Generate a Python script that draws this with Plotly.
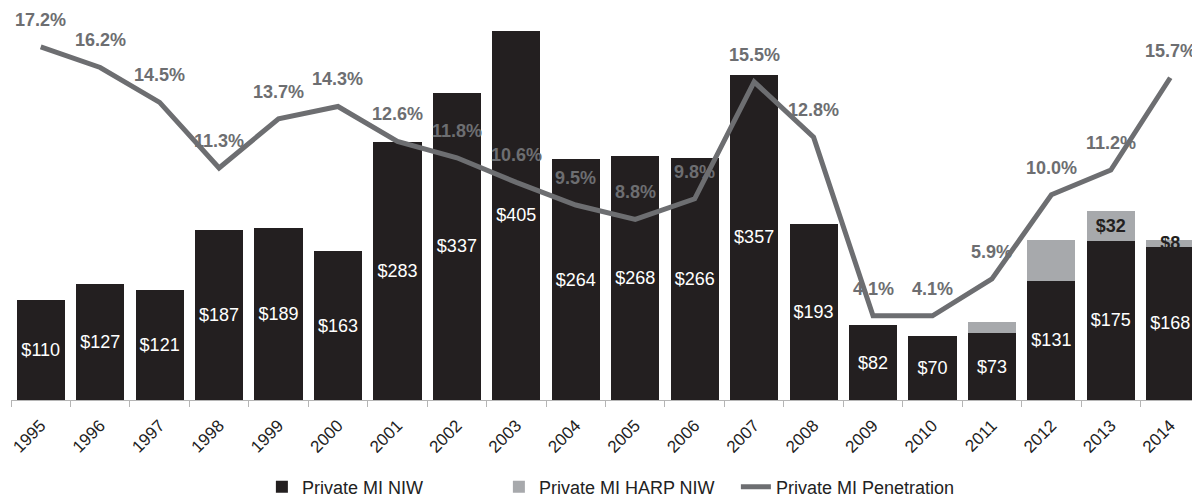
import plotly.graph_objects as go

# Données
years = [str(y) for y in range(1995, 2015)]
mi_niw = [110, 127, 121, 187, 189, 163, 283, 337, 405, 264, 268, 266, 357, 193, 82, 70, 73, 131, 175, 168]
harp_niw = [0, 0, 0, 0, 0, 0, 0, 0, 0, 0, 0, 0, 0, 0, 0, 0, 13, 45, 32, 8]
harp_labels = ["", "", "", "", "", "", "", "", "", "", "", "", "", "", "", "", "", "", "$32", "$8"]
penetration = [17.2, 16.2, 14.5, 11.3, 13.7, 14.3, 12.6, 11.8, 10.6, 9.5, 8.8, 9.8, 15.5, 12.8, 4.1, 4.1, 5.9, 10.0, 11.2, 15.7]

BLACK = "#231f20"
LIGHT = "#a7a9ac"
LINE = "#6d6e71"
FONT = "Liberation Sans, Arial, sans-serif"

fig = go.Figure()

fig.add_trace(go.Bar(
    x=years, y=mi_niw, name="Private MI NIW",
    marker_color=BLACK, marker_line_width=0,
    text=[f"${v}" for v in mi_niw], textposition="inside", textangle=0,
    insidetextanchor="middle", constraintext="none",
    textfont=dict(color="white", size=18, family=FONT),
))

fig.add_trace(go.Bar(
    x=years, y=harp_niw, name="Private MI HARP NIW",
    marker_color=LIGHT, marker_line_width=0,
    text=harp_labels, textposition="inside", textangle=0,
    insidetextanchor="middle", constraintext="none",
    textfont=dict(color=BLACK, size=18, family=FONT, weight="bold"),
))

fig.add_trace(go.Scatter(
    x=years, y=penetration, name="Private MI Penetration", yaxis="y2",
    mode="lines", line=dict(color=LINE, width=5),
))

# Étiquettes de pourcentage au-dessus de la courbe (x = index de catégorie)
for i, p in enumerate(penetration):
    fig.add_annotation(
        x=i, y=p, yref="y2", text=f"{p:.1f}%", showarrow=False,
        yshift=27, font=dict(color=LINE, size=18, family=FONT, weight="bold"),
    )

# la page ajoute une marge de 8 px autour du graphique : figure réduite d'autant
fig.update_layout(
    barmode="stack",
    bargap=0.19,
    width=1192, height=490,
    margin=dict(l=3, r=0, t=2, b=98, autoexpand=False),
    paper_bgcolor="white", plot_bgcolor="white",
    font=dict(family=FONT, color="#222"),
    xaxis=dict(
        type="category", range=[-0.5, len(years) - 0.5], automargin=False,
        showgrid=False, showline=True, linecolor="#b5b5b5", linewidth=1,
        ticks="outside", tickson="boundaries", ticklen=6, tickcolor="#b5b5b5",
        tickangle=-45, tickfont=dict(size=17, color="#222"), ticklabelstandoff=8,
    ),
    yaxis=dict(range=[0, 428], visible=False, showgrid=False),
    yaxis2=dict(range=[0, 19.0], overlaying="y", visible=False, showgrid=False),
    legend=dict(
        orientation="h", x=0.51, xanchor="center", y=-0.223, yanchor="middle",
        font=dict(size=18, color="#222"), entrywidth=192, traceorder="normal",
    ),
    showlegend=True,
)

fig.write_html("out.html")
